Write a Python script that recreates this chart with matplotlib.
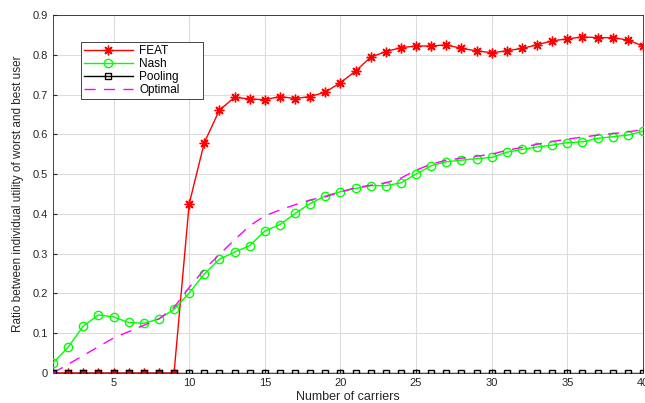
import numpy as np
import matplotlib.pyplot as plt

plt.rcParams['font.family'] = ['Liberation Sans', 'DejaVu Sans']

carriers = np.arange(1, 41)

feat = [0, 0, 0, 0, 0, 0, 0, 0, 0, 0.425,
        0.579, 0.661, 0.693, 0.689, 0.687, 0.695, 0.690, 0.695, 0.706, 0.730,
        0.759, 0.794, 0.808, 0.818, 0.822, 0.822, 0.825, 0.816, 0.810, 0.805,
        0.810, 0.816, 0.825, 0.835, 0.840, 0.845, 0.843, 0.843, 0.837, 0.822]

nash = [0.025, 0.065, 0.118, 0.146, 0.141, 0.127, 0.125, 0.136, 0.160, 0.201,
        0.249, 0.286, 0.304, 0.320, 0.357, 0.373, 0.401, 0.426, 0.445, 0.456,
        0.464, 0.471, 0.471, 0.478, 0.500, 0.521, 0.531, 0.535, 0.539, 0.542,
        0.555, 0.562, 0.568, 0.573, 0.579, 0.581, 0.590, 0.594, 0.598, 0.608]

pooling = [0] * 40

optimal = [0.0, 0.022, 0.044, 0.066, 0.088, 0.104, 0.120, 0.136, 0.165, 0.215,
           0.260, 0.298, 0.335, 0.370, 0.395, 0.410, 0.423, 0.435, 0.443, 0.455,
           0.466, 0.472, 0.478, 0.490, 0.510, 0.525, 0.535, 0.540, 0.545, 0.550,
           0.560, 0.567, 0.575, 0.582, 0.588, 0.593, 0.598, 0.602, 0.606, 0.612]

fig = plt.figure(figsize=(6.45, 4.03), dpi=100)
ax = fig.add_axes([0.0822, 0.0744, 0.9147, 0.8884])

ax.plot(carriers, feat, color='red', lw=1.0, marker=(8, 2, 0), markersize=7,
        markeredgewidth=1.0, label='FEAT', zorder=3)
ax.plot(carriers, nash, color='#00ff00', lw=1.0, marker='o', markersize=6,
        markerfacecolor='none', markeredgewidth=1.0, label='Nash', zorder=3)
ax.plot(carriers, pooling, color='black', lw=1.0, marker='s', markersize=5,
        markerfacecolor='none', markeredgewidth=1.0, label='Pooling', zorder=4)
ax.plot(carriers, optimal, color='magenta', lw=1.0, dashes=(8, 6),
        label='Optimal', zorder=3)

ax.set_xlim(1, 40)
ax.set_ylim(0, 0.9)
ax.set_xticks([5, 10, 15, 20, 25, 30, 35, 40])
ax.set_yticks(np.arange(0, 0.91, 0.1))
ax.set_yticklabels(['0', '0.1', '0.2', '0.3', '0.4', '0.5', '0.6', '0.7', '0.8', '0.9'])
ax.grid(True, color='#dcdcdc', lw=0.8)
ax.set_axisbelow(True)
ax.tick_params(direction='in', labelsize=8, colors='#262626', length=3)
for s in ax.spines.values():
    s.set_color('#262626')
    s.set_linewidth(0.6)

ax.set_xlabel('Number of carriers', fontsize=9, color='#262626', labelpad=2)
ax.set_ylabel('Ratio between individual utility of worst and best user',
              fontsize=8.5, color='#262626', labelpad=6)

# legend box sized like the MATLAB one (extra room on the right)
leg = ax.legend(loc='upper left', bbox_to_anchor=(0.047, 0.777, 0.207, 0.148),
                mode='expand', fontsize=8.5, fancybox=False, edgecolor='#262626',
                framealpha=1, borderaxespad=0, borderpad=0.25, labelspacing=0.1,
                handlelength=4.2, handletextpad=0.5)
leg.get_frame().set_linewidth(0.6)

fig.savefig('out.png', dpi=100)
